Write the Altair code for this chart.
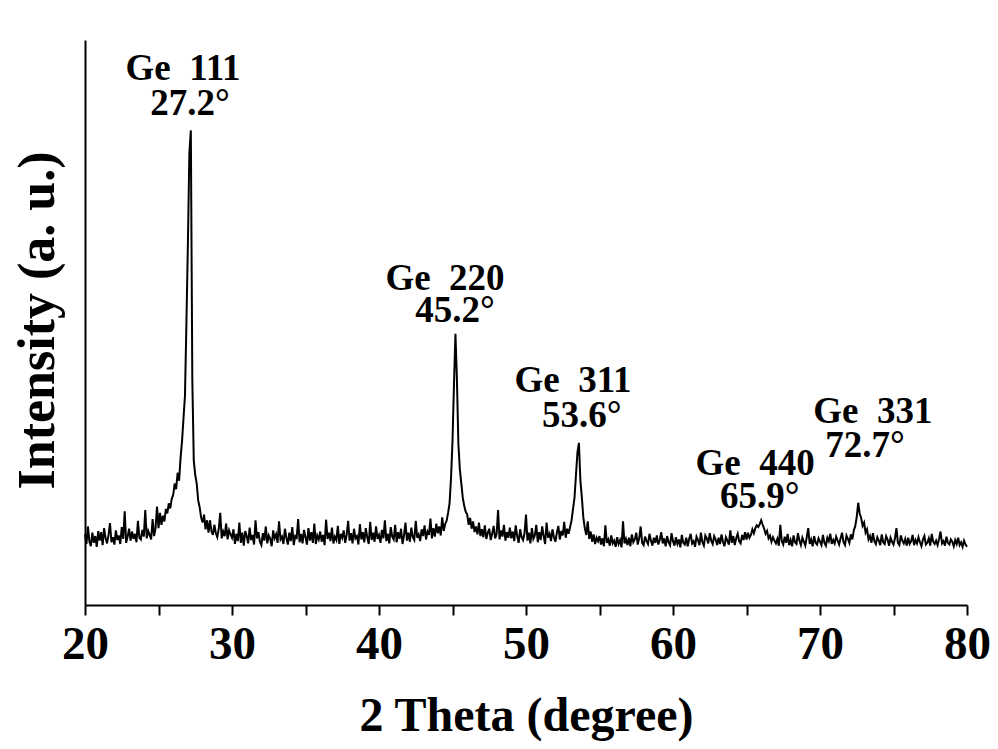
import altair as alt
import pandas as pd

# 2-theta grid: 20.0 .. 80.0 in 0.1 degree steps
theta_start = 20.0
theta_step = 0.1

# Intensity (a. u.), one segment per 10 degrees
seg_20_30 = [
    12.5, 10.8, 13.9, 11.2, 10.4, 12.8, 11.0, 12.2, 10.3, 13.1,
    11.4, 12.9, 10.6, 13.6, 11.8, 10.9, 12.4, 14.5, 11.1, 12.0,
    10.7, 13.2, 11.5, 12.3, 10.8, 13.8, 11.7, 16.6, 11.0, 12.1,
    13.5, 11.4, 13.0, 11.7, 12.6, 11.1, 14.9, 11.9, 11.6, 13.3,
    12.1, 16.8, 11.8, 13.1, 12.4, 11.6, 15.2, 12.2, 13.6, 17.4,
    13.6, 16.3, 14.2, 15.8, 14.8, 17.0, 16.2, 18.0, 17.1, 18.8,
    19.5, 21.5, 20.5, 23.4, 22.0, 26.0, 29.0, 33.0, 37.0, 50.0,
    64.0, 80.0, 84.0, 40.0, 25.5, 23.0, 21.5, 18.5, 17.3, 15.5,
    14.6, 16.0, 13.4, 15.0, 12.8, 15.0, 13.1, 12.4, 14.2, 12.7,
    12.0, 13.5, 16.3, 11.8, 13.0, 12.2, 14.4, 11.6, 13.2, 12.5,
]
seg_30_40 = [
    11.9, 13.4, 10.8, 12.6, 11.3, 14.6, 11.0, 12.8, 10.5, 13.1,
    12.2, 10.9, 13.7, 11.5, 12.4, 10.7, 15.0, 11.8, 12.9, 11.2,
    10.6, 12.7, 11.4, 13.9, 10.9, 12.3, 11.7, 10.4, 13.2, 11.8,
    12.5, 11.0, 14.8, 11.6, 12.1, 10.8, 13.5, 11.9, 10.7, 12.8,
    11.3, 13.8, 10.6, 12.2, 11.9, 15.2, 11.1, 12.6, 10.9, 13.3,
    12.0, 10.7, 13.6, 11.4, 12.9, 11.0, 14.4, 10.8, 12.3, 11.6,
    13.0, 11.2, 12.4, 10.6, 15.1, 11.7, 12.8, 11.3, 13.7, 10.9,
    12.1, 11.5, 14.0, 10.8, 12.6, 11.9, 13.2, 11.0, 12.4, 14.9,
    11.4, 12.7, 10.9, 13.5, 11.8, 12.2, 10.7, 14.3, 11.6, 12.9,
    11.1, 13.6, 12.0, 10.8, 14.7, 11.5, 12.8, 11.2, 13.9, 11.7,
]
seg_40_50 = [
    12.4, 11.0, 13.3, 11.8, 15.0, 11.3, 12.6, 10.9, 13.8, 12.1,
    11.6, 14.2, 11.1, 12.9, 11.7, 13.5, 10.8, 12.3, 14.6, 11.4,
    12.8, 11.2, 13.7, 12.0, 11.5, 14.9, 11.9, 12.5, 11.3, 13.4,
    12.2, 14.1, 11.6, 13.0, 12.4, 15.3, 11.8, 13.6, 12.1, 14.4,
    12.7, 13.9, 12.3, 15.5, 13.1, 14.3, 14.9, 16.3, 18.0, 22.5,
    29.0, 39.0, 48.0, 40.0, 28.5, 24.0, 21.5, 19.0, 17.5, 16.5,
    16.0, 14.2, 15.4, 13.5, 14.8, 12.9, 13.9, 12.5, 14.6, 12.2,
    13.4, 12.0, 14.1, 11.7, 12.8, 13.5, 11.5, 12.6, 14.0, 11.8,
    12.5, 16.8, 11.6, 13.2, 12.1, 14.2, 11.4, 12.9, 11.9, 13.7,
    11.8, 13.0, 11.3, 14.1, 12.2, 11.0, 13.4, 12.0, 11.5, 12.7,
]
seg_50_60 = [
    16.0, 11.4, 12.8, 10.9, 13.6, 11.7, 12.3, 14.2, 11.1, 12.9,
    11.5, 13.9, 12.2, 10.8, 14.6, 11.9, 12.6, 11.3, 13.4, 12.0,
    11.2, 12.8, 14.0, 11.6, 13.1, 12.3, 14.7, 11.9, 13.5, 12.6,
    13.8, 15.0, 17.0, 19.0, 23.0, 27.0, 28.7, 22.0, 19.0, 15.5,
    13.6, 12.4, 14.8, 11.7, 13.0, 11.2, 12.5, 10.8, 11.9, 11.3,
    12.2, 10.7, 11.8, 10.4, 14.1, 11.0, 11.6, 10.5, 12.3, 10.9,
    11.4, 10.3, 12.0, 10.8, 11.5, 10.2, 14.8, 10.9, 11.7, 10.6,
    11.9, 10.4, 12.5, 11.1, 11.6, 12.8, 10.7, 11.8, 13.9, 11.0,
    10.6, 12.1, 11.3, 10.8, 12.6, 11.4, 10.5, 11.9, 11.0, 12.3,
    10.7, 11.5, 12.9, 10.9, 11.8, 10.4, 12.2, 11.1, 10.6, 12.7,
]
seg_60_70 = [
    11.3, 10.5, 12.0, 10.8, 11.6, 10.2, 12.4, 11.0, 10.7, 11.9,
    10.4, 11.7, 12.6, 10.9, 11.3, 10.3, 12.1, 11.5, 10.6, 12.8,
    11.1, 10.5, 12.3, 11.8, 10.9, 12.7, 11.4, 10.8, 12.2, 11.6,
    10.6, 11.9, 10.8, 12.5, 11.2, 10.4, 12.0, 11.4, 10.7, 13.2,
    11.0, 12.2, 10.6, 11.8, 12.6, 11.3, 10.9, 12.4, 11.5, 12.9,
    11.6, 12.8, 11.9, 12.4, 13.4, 12.7, 13.6, 14.1, 13.8, 14.3,
    15.0, 14.2, 13.5, 12.6, 13.1, 11.8, 12.3, 11.2, 12.0, 11.4,
    10.9, 11.7, 10.5, 14.2, 11.3, 10.7, 12.1, 11.0, 12.6, 10.6,
    11.5, 10.4, 12.3, 11.1, 10.8, 12.7, 11.4, 10.6, 11.9, 11.2,
    10.5, 12.0, 13.6, 10.8, 11.6, 10.4, 12.2, 11.0, 10.7, 11.8,
]
seg_70_80 = [
    11.2, 10.6, 12.4, 11.0, 10.5, 11.9, 11.3, 12.6, 10.8, 11.5,
    10.9, 12.1, 11.4, 10.7, 11.8, 12.8, 11.1, 10.6, 12.3, 11.7,
    11.0, 12.5, 11.6, 13.2, 14.0, 15.6, 18.1, 16.2, 15.4, 14.0,
    14.6, 12.8, 13.4, 11.6, 12.2, 11.0, 12.7, 11.3, 10.8, 12.0,
    11.4, 10.6, 12.5, 11.1, 10.8, 12.2, 11.6, 10.5, 11.9, 11.2,
    10.7, 11.8, 13.6, 11.0, 10.6, 12.3, 11.4, 10.9, 11.7, 10.5,
    11.9, 10.8, 11.3, 12.4, 10.6, 11.5, 10.9, 12.0, 11.1, 10.4,
    11.6, 12.2, 10.7, 11.0, 11.8, 10.5, 12.6, 11.2, 10.8, 11.4,
    10.6, 11.7, 13.0, 10.9, 11.3, 10.5, 12.1, 11.0, 10.7, 11.6,
    11.2, 10.4, 11.5, 10.8, 11.9, 10.6, 11.1, 10.3, 11.4, 10.7,
    10.3,
]

# Peak annotations
peak_names = ["Ge\u00a0 111", "Ge\u00a0 220", "Ge\u00a0 311", "Ge\u00a0 440", "Ge\u00a0 331"]
peak_angles = ["27.2°", "45.2°", "53.6°", "65.9°", "72.7°"]
name_x = [26.67, 44.49, 53.2, 65.58, 73.6]
name_y = [92.9, 55.75, 37.7, 23.0, 32.2]
angle_x = [27.14, 45.17, 53.8, 65.9, 73.06]
angle_y = [86.7, 50.1, 31.5, 17.2, 26.2]

intensity = seg_20_30 + seg_30_40 + seg_40_50 + seg_50_60 + seg_60_70 + seg_70_80
theta = [round(theta_start + i * theta_step, 1) for i in range(len(intensity))]
df = pd.DataFrame({"theta": theta, "intensity": intensity})

ann = pd.DataFrame({
    "label": peak_names + peak_angles,
    "x": name_x + angle_x,
    "y": name_y + angle_y,
})

FONT = "Liberation Serif"

xscale = alt.Scale(domain=[20, 80], nice=False, zero=False)
yscale = alt.Scale(domain=[0, 100], nice=False, zero=False)

line = alt.Chart(df).mark_line(color="black", strokeWidth=2.0).encode(
    x=alt.X(
        "theta:Q",
        scale=xscale,
        axis=alt.Axis(
            title="2 Theta (degree)",
            values=[20, 25, 30, 35, 40, 45, 50, 55, 60, 65, 70, 75, 80],
            labelExpr="datum.value % 10 == 0 ? datum.label : ''",
            grid=False,
            domainColor="black",
            domainWidth=2,
            tickColor="black",
            tickWidth=2,
            tickSize=10,
            labelFont=FONT,
            labelFontSize=47,
            labelFontWeight="bold",
            labelColor="black",
            labelPadding=6,
            labelFlush=False,
            labelOverlap=False,
            titleFont=FONT,
            titleFontSize=48,
            titleFontWeight="bold",
            titleColor="black",
            titleBaseline="alphabetic",
            titleAnchor="middle",
            titleX=441,
            titleY=125,
        ),
    ),
    y=alt.Y(
        "intensity:Q",
        scale=yscale,
        axis=alt.Axis(
            title="Intensity (a. u.)",
            labels=False,
            ticks=False,
            grid=False,
            domainColor="black",
            domainWidth=2,
            titleFont=FONT,
            titleFontSize=52,
            titleFontWeight="bold",
            titleColor="black",
            titleBaseline="alphabetic",
            titleAngle=270,
            titleAlign="center",
            titleX=-32,
            titleY=280,
        ),
    ),
)

text = alt.Chart(ann).mark_text(
    font=FONT, fontSize=37, fontWeight="bold", color="black",
    align="center", baseline="alphabetic",
).encode(
    x=alt.X("x:Q", scale=xscale),
    y=alt.Y("y:Q", scale=yscale),
    text="label:N",
)

chart = alt.layer(line, text).properties(
    width=882,
    height=565,
    background="white",
    autosize=alt.AutoSizeParams(type="none"),
    padding={"left": 77, "top": 32, "right": 23, "bottom": 136},
).configure_view(stroke="transparent", strokeWidth=0)

chart.save("out.html", embed_options={"renderer": "svg", "actions": False})
